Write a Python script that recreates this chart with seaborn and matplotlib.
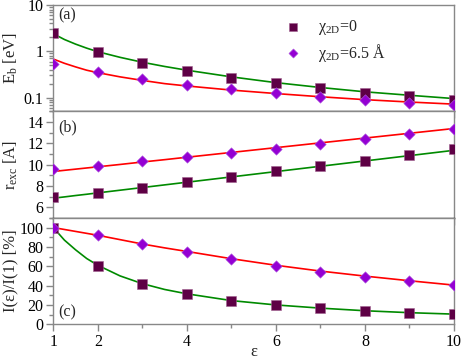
import matplotlib
matplotlib.use("Agg")
import matplotlib.pyplot as plt
from matplotlib import font_manager
import seaborn as sns
from matplotlib.ticker import FixedLocator, FixedFormatter, MultipleLocator, NullFormatter, LogLocator

# ---- data ----
eps = [1, 2, 3, 4, 5, 6, 7, 8, 9, 10]
eb_sq = [2.47, 0.98, 0.57, 0.37, 0.27, 0.205, 0.16, 0.127, 0.106, 0.09]
eb_di = [0.53, 0.35, 0.254, 0.19, 0.154, 0.123, 0.102, 0.087, 0.076, 0.068]
r_sq = [7.0, 7.33, 7.84, 8.33, 8.85, 9.37, 9.89, 10.36, 10.93, 11.44]
r_di = [9.64, 9.92, 10.3, 10.7, 11.1, 11.5, 11.94, 12.45, 12.9, 13.37]
i_sq = [100, 60.4, 41.7, 31.6, 24.3, 19.8, 16.7, 13.5, 11.8, 10.4]
i_di = [100, 92, 83, 75, 67.5, 60.4, 54.5, 49.3, 44.8, 40.2]

curve_eps = [1, 1.25, 1.5, 1.75, 2, 2.5, 3, 3.5, 4, 5, 6, 7, 8, 9, 10]
eb_green = [2.4, 1.8, 1.43, 1.17, 0.98, 0.74, 0.58, 0.47, 0.39, 0.28, 0.21, 0.165, 0.133, 0.112, 0.095]
eb_red = [0.68, 0.55, 0.46, 0.39, 0.345, 0.28, 0.235, 0.2, 0.178, 0.145, 0.122, 0.104, 0.09, 0.08, 0.072]
r_green = [6.85, 6.97, 7.1, 7.22, 7.35, 7.6, 7.85, 8.1, 8.35, 8.85, 9.35, 9.85, 10.35, 10.85, 11.35]
r_red = [9.36, 9.47, 9.58, 9.69, 9.8, 10.02, 10.25, 10.47, 10.7, 11.15, 11.6, 12.05, 12.5, 12.95, 13.4]
i_green = [100, 87, 77, 68, 61, 50, 42, 36, 31.5, 24.5, 20, 16.7, 14, 12, 10.5]
i_red = [100, 98, 96, 94, 92, 87.5, 83, 79, 75.3, 67.8, 61, 55, 49.8, 45, 40.5]

legend_labels = ["χ$_\\mathrm{2D}$=0", "χ$_\\mathrm{2D}$=6.5 Å"]
ylabels = ["E$_\\mathrm{b}$ [eV]", "r$_\\mathrm{exc}$ [A]", "I(ε)/I(1) [%]"]
panel_tags = ["(a)", "(b)", "(c)"]
xtick_major = [1, 2, 4, 6, 8, 10]
xtick_minor = [3, 5, 7, 9]

# ---- style ----
sns.set_theme(style="ticks")
names = {f.name for f in font_manager.fontManager.ttflist}
serif = "Liberation Serif" if "Liberation Serif" in names else "DejaVu Serif"
plt.rcParams["font.serif"] = [serif, "DejaVu Serif"]
plt.rcParams["font.family"] = [serif, "DejaVu Serif"]
plt.rcParams["mathtext.fontset"] = "custom"
plt.rcParams["mathtext.rm"] = serif
plt.rcParams["mathtext.it"] = serif + ":italic"
plt.rcParams["mathtext.bf"] = serif + ":bold"
plt.rcParams["axes.edgecolor"] = "#888888"
plt.rcParams["axes.linewidth"] = 1.0

SQ_COLOR = "#5e0045"
DI_COLOR = "#9400d3"
GREEN = "#008a00"
RED = "#ff0000"
TICKFS = 11.5
LABFS = 12

fig, axes = plt.subplots(3, 1, figsize=(4.63, 3.61), dpi=100, sharex=True)
fig.subplots_adjust(left=0.1151, right=0.9806, top=0.986, bottom=0.1017, hspace=0)

panels = [
    (eb_green, eb_red, eb_sq, eb_di),
    (r_green, r_red, r_sq, r_di),
    (i_green, i_red, i_sq, i_di),
]
for ax, (g, r, s, d) in zip(axes, panels):
    sns.lineplot(x=curve_eps, y=g, ax=ax, color=GREEN, lw=1.2, estimator=None, sort=False)
    sns.lineplot(x=curve_eps, y=r, ax=ax, color=RED, lw=1.2, estimator=None, sort=False)
    sns.scatterplot(x=eps, y=s, ax=ax, marker="s", s=48, color=SQ_COLOR, edgecolor="#a06090",
                    linewidth=0.4, zorder=3, label=legend_labels[0] if ax is axes[0] else None)
    sns.scatterplot(x=eps, y=d, ax=ax, marker="D", s=34, color=DI_COLOR, edgecolor="#b060e0",
                    linewidth=0.4, zorder=4, label=legend_labels[1] if ax is axes[0] else None)
    ax.set_xlim(1, 10)
    ax.xaxis.set_major_locator(FixedLocator(xtick_major))
    ax.xaxis.set_minor_locator(FixedLocator(xtick_minor))
    ax.tick_params(axis="both", which="both", direction="out", colors="#888888",
                   labelcolor="black", labelsize=TICKFS, pad=2)
    ax.tick_params(which="major", length=5, width=1.0)
    ax.tick_params(which="minor", length=3, width=1.0)
    ax.tick_params(axis="x", which="both", top=False)
    ax.tick_params(axis="y", which="both", right=False)
    for sp in ax.spines.values():
        sp.set_visible(True)
        sp.set_color("#888888")

axes[0].spines["bottom"].set_color("black")
axes[1].spines["bottom"].set_color("black")

# panel a
ax = axes[0]
ax.set_yscale("log")
ax.set_ylim(0.05, 10)
ax.yaxis.set_major_locator(FixedLocator([0.1, 1, 10]))
ax.yaxis.set_major_formatter(FixedFormatter(["0.1", "1", "10"]))
ax.yaxis.set_minor_locator(LogLocator(base=10, subs=[2, 3, 4, 5, 6, 7, 8, 9]))
ax.yaxis.set_minor_formatter(NullFormatter())
leg = ax.legend(loc="upper left", bbox_to_anchor=(0.53, 0.985), frameon=False, fontsize=TICKFS,
                handletextpad=0.6, borderaxespad=0.3, labelspacing=0.3, markerscale=0.8)

# panel b
ax = axes[1]
ax.set_ylim(5, 15)
ax.yaxis.set_major_locator(FixedLocator([6, 8, 10, 12, 14]))
ax.yaxis.set_minor_locator(MultipleLocator(1))

# panel c
ax = axes[2]
ax.set_ylim(0, 110)
ax.yaxis.set_major_locator(FixedLocator([0, 20, 40, 60, 80, 100]))
ax.yaxis.set_minor_locator(MultipleLocator(10))
ax.xaxis.set_major_formatter(FixedFormatter([str(v) for v in xtick_major]))
ax.set_xlabel("ε", fontsize=LABFS, labelpad=-4)

tag_y = [0.9, 0.85, 0.11]
for ax, lab, tag, ty in zip(axes, ylabels, panel_tags, tag_y):
    ax.set_ylabel(lab, fontsize=LABFS, va="top")
    ax.yaxis.set_label_coords(-0.128, 0.5)
    ax.text(0.012, ty, tag, transform=ax.transAxes, fontsize=TICKFS, va="center", ha="left")

fig.savefig("out.png", dpi=100)
